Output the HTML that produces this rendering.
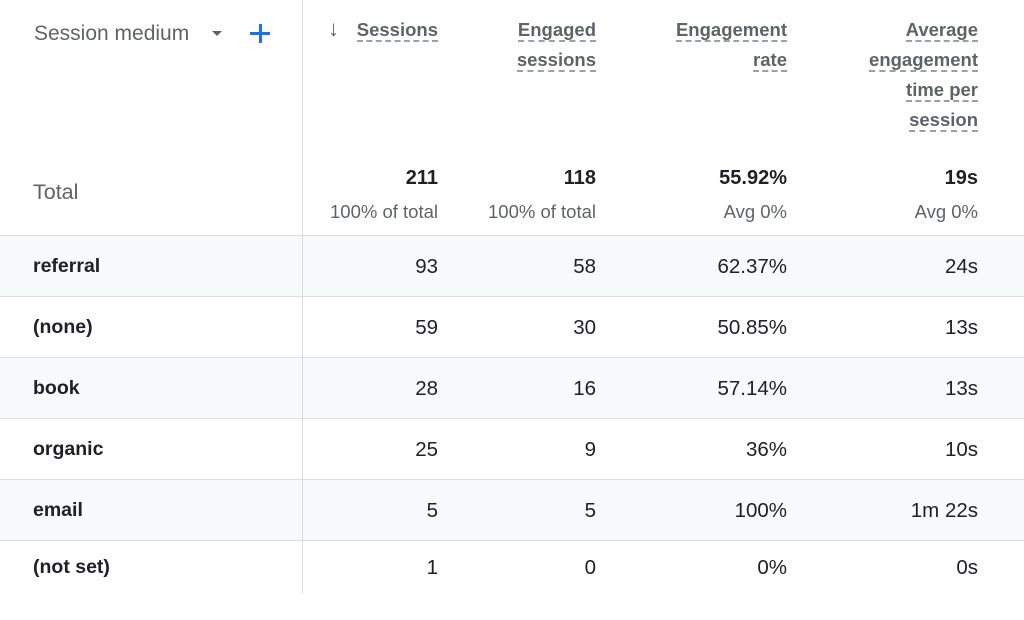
<!DOCTYPE html>
<html><head><style>
body{margin:0;width:1024px;height:620px;background:#fff;font-family:"Liberation Sans",Arial,sans-serif;position:relative;overflow:hidden}
.a{position:absolute;white-space:nowrap}
.r{text-align:right}
.h{color:#5f6368;font-size:18.5px;line-height:30px;font-weight:bold}
.u{border-bottom:2px dashed #9aa0a6;padding-bottom:0px}
.row{position:absolute;left:0;width:1024px;border-bottom:1px solid #dadce0}
.sh{background:#f8f9fa}
.c{font-size:20.5px;color:#202124}
.l{font-weight:bold;font-size:19.5px}
.t{font-weight:bold;font-size:20px}
.g{color:#5f6368;font-size:18.5px}
</style></head><body>
<div class="row" style="top:0;height:235px"></div>
<div class="row sh" style="top:236px;height:60px"></div>
<div class="row" style="top:297px;height:60px"></div>
<div class="row sh" style="top:358px;height:60px"></div>
<div class="row" style="top:419px;height:60px"></div>
<div class="row sh" style="top:480px;height:60px"></div>
<div class="a" style="left:302px;top:0;width:1px;height:593px;background:#dadce0"></div>

<div class="a" style="left:34px;top:19px;color:#5f6368;font-size:21px;line-height:30px">Session medium</div>
<div class="a" style="left:212px;top:31px;width:0;height:0;border-left:5px solid transparent;border-right:5px solid transparent;border-top:5px solid #5f6368"></div>
<div class="a" style="left:250px;top:32px;width:20px;height:3px;background:#1a73e8"></div>
<div class="a" style="left:258.5px;top:24px;width:3px;height:19px;background:#1a73e8"></div>

<div class="a h" style="left:328px;top:14px;font-size:22px">↓</div>
<div class="a h r" style="right:586px;top:15px"><span class="u">Sessions</span></div>
<div class="a h r" style="right:428px;top:15px"><span class="u">Engaged</span><br><span class="u">sessions</span></div>
<div class="a h r" style="right:237px;top:15px"><span class="u">Engagement</span><br><span class="u">rate</span></div>
<div class="a h r" style="right:46px;top:15px"><span class="u">Average</span><br><span class="u">engagement</span><br><span class="u">time per</span><br><span class="u">session</span></div>

<div class="a" style="left:33px;top:180px;font-size:21.5px;color:#5f6368">Total</div>
<div class="a r c t" style="right:586px;top:167px">211</div>
<div class="a r c t" style="right:428px;top:167px">118</div>
<div class="a r c t" style="right:237px;top:167px">55.92%</div>
<div class="a r c t" style="right:46px;top:167px">19s</div>
<div class="a r g" style="right:586px;top:201px">100% of total</div>
<div class="a r g" style="right:428px;top:201px">100% of total</div>
<div class="a r g" style="right:237px;top:201px">Avg 0%</div>
<div class="a r g" style="right:46px;top:201px">Avg 0%</div>

<div class="a c l" style="left:33px;top:255px">referral</div>
<div class="a c r" style="right:586px;top:255px">93</div><div class="a c r" style="right:428px;top:255px">58</div><div class="a c r" style="right:237px;top:255px">62.37%</div><div class="a c r" style="right:46px;top:255px">24s</div>
<div class="a c l" style="left:33px;top:316px">(none)</div>
<div class="a c r" style="right:586px;top:316px">59</div><div class="a c r" style="right:428px;top:316px">30</div><div class="a c r" style="right:237px;top:316px">50.85%</div><div class="a c r" style="right:46px;top:316px">13s</div>
<div class="a c l" style="left:33px;top:377px">book</div>
<div class="a c r" style="right:586px;top:377px">28</div><div class="a c r" style="right:428px;top:377px">16</div><div class="a c r" style="right:237px;top:377px">57.14%</div><div class="a c r" style="right:46px;top:377px">13s</div>
<div class="a c l" style="left:33px;top:438px">organic</div>
<div class="a c r" style="right:586px;top:438px">25</div><div class="a c r" style="right:428px;top:438px">9</div><div class="a c r" style="right:237px;top:438px">36%</div><div class="a c r" style="right:46px;top:438px">10s</div>
<div class="a c l" style="left:33px;top:499px">email</div>
<div class="a c r" style="right:586px;top:499px">5</div><div class="a c r" style="right:428px;top:499px">5</div><div class="a c r" style="right:237px;top:499px">100%</div><div class="a c r" style="right:46px;top:499px">1m 22s</div>
<div class="a c l" style="left:33px;top:556px">(not set)</div>
<div class="a c r" style="right:586px;top:556px">1</div><div class="a c r" style="right:428px;top:556px">0</div><div class="a c r" style="right:237px;top:556px">0%</div><div class="a c r" style="right:46px;top:556px">0s</div>
</body></html>
